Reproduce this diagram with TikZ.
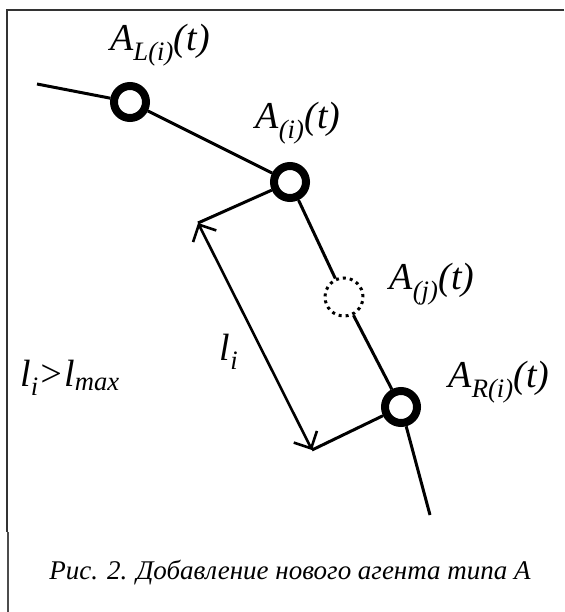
\documentclass[tikz,border=0pt]{standalone}
\usepackage{fontspec}
\setmainfont{Liberation Serif}
\usetikzlibrary{arrows.meta}

\begin{document}
\begin{tikzpicture}[x=1pt, y=-1pt, line width=3pt,
    agent/.style={circle, draw, line width=8pt, minimum size=32pt, inner sep=0pt},
    newagent/.style={circle, draw, line width=3pt, dash pattern=on 3pt off 4pt, minimum size=38pt, inner sep=0pt},
    lbl/.style={font=\fontsize{38}{38}\selectfont\itshape, inner sep=0pt},
    dim/.style={{Straight Barb[length=13pt,width=26pt]}-{Straight Barb[length=13pt,width=26pt]}, line width=2.6pt}]
    \useasboundingbox (0,0) rectangle (564,612);
    % frame
    \draw[line width=1.4pt, black!80] (564,10) -- (7,10) -- (7,532);
    \draw[line width=2pt, black!70] (8,532) -- (8,612);
    % agents on the chain
    \coordinate (start) at (37,84);
    \coordinate (stop) at (430,515);
    \node[agent] (aL) at (130,102) {};
    \node[agent] (ai) at (290,182) {};
    \node[newagent] (aj) at (344,297) {};
    \node[agent] (aR) at (401,407) {};
    \draw (start) -- (aL) -- (ai) -- (aj) -- (aR) -- (stop);
    % distance between neighbours
    \coordinate (d1) at (198,223);
    \coordinate (d2) at (312,450);
    \draw (ai) -- (d1);
    \draw (aR) -- (d2);
    \draw[dim] (d1) -- (d2);
    % labels
    \node[lbl] (tL) at (160,45) {A\textsubscript{L(i)}(t)};
    \node[lbl] (ti) at (298,123) {A\textsubscript{(i)}(t)};
    \node[lbl] (tj) at (432,284) {A\textsubscript{(j)}(t)};
    \node[lbl] (tR) at (499,382) {A\textsubscript{R(i)}(t)};
    \node[lbl] (li) at (229,352) {l\textsubscript{i}};
    \node[lbl] (cond) at (70,378) {l\textsubscript{i}>l\textsubscript{max}};
    \node[font=\fontsize{27}{27}\selectfont\itshape, inner sep=0pt] (cap) at (290,573) {Рис. 2. Добавление нового агента типа А};
\end{tikzpicture}
\end{document}
